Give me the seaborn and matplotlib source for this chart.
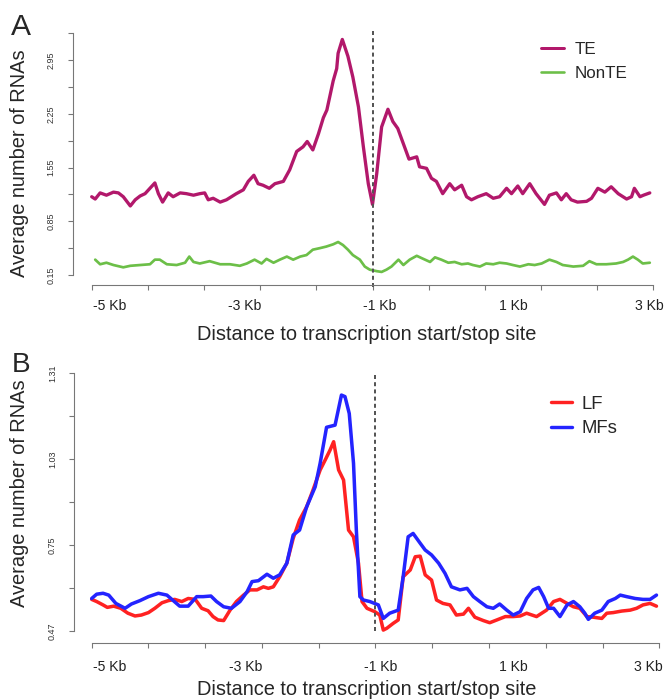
import numpy as np
import pandas as pd
import matplotlib
matplotlib.use("Agg")
import matplotlib.pyplot as plt
from matplotlib.lines import Line2D
import seaborn as sns

# ---------------- data ----------------
te_x = [-5.00, -4.95, -4.88, -4.79, -4.69, -4.62, -4.55, -4.45, -4.38, -4.31, -4.24, -4.17,
        -4.10, -4.05, -3.99, -3.91, -3.84, -3.74, -3.65, -3.55, -3.46, -3.39, -3.34, -3.27,
        -3.17, -3.08, -3.01, -2.94, -2.84, -2.77, -2.69, -2.63, -2.56, -2.47, -2.39, -2.27,
        -2.18, -2.08, -1.99, -1.93, -1.85, -1.77, -1.70, -1.65, -1.56, -1.51, -1.49, -1.43,
        -1.35, -1.28, -1.20, -1.13, -1.06, -1.00, -0.94, -0.87, -0.78, -0.71, -0.64, -0.56,
        -0.48, -0.37, -0.33, -0.23, -0.16, -0.09, 0.00, 0.10, 0.17, 0.27, 0.34, 0.41,
        0.50, 0.62, 0.72, 0.81, 0.91, 0.98, 1.07, 1.14, 1.24, 1.33, 1.45, 1.52,
        1.62, 1.69, 1.76, 1.83, 1.92, 2.05, 2.12, 2.21, 2.31, 2.40, 2.50, 2.62,
        2.69, 2.73, 2.81, 2.86, 2.95]
te_y = [1.17, 1.14, 1.22, 1.19, 1.23, 1.22, 1.17, 1.05, 1.13, 1.18, 1.21, 1.28,
        1.35, 1.21, 1.10, 1.22, 1.17, 1.22, 1.21, 1.19, 1.21, 1.22, 1.13, 1.15,
        1.10, 1.13, 1.17, 1.21, 1.26, 1.37, 1.45, 1.34, 1.32, 1.28, 1.34, 1.37,
        1.52, 1.76, 1.82, 1.89, 1.78, 1.99, 2.20, 2.30, 2.68, 2.84, 3.04, 3.22,
        3.00, 2.73, 2.34, 1.82, 1.34, 1.07, 1.47, 2.08, 2.31, 2.15, 2.06, 1.86,
        1.66, 1.69, 1.56, 1.54, 1.41, 1.37, 1.21, 1.34, 1.26, 1.32, 1.17, 1.13,
        1.17, 1.21, 1.15, 1.17, 1.28, 1.21, 1.31, 1.21, 1.34, 1.21, 1.07, 1.19,
        1.22, 1.13, 1.21, 1.13, 1.10, 1.11, 1.15, 1.28, 1.23, 1.30, 1.21, 1.14,
        1.17, 1.28, 1.17, 1.19, 1.22]

nonte_x = [-4.95, -4.88, -4.79, -4.69, -4.55, -4.45, -4.31, -4.17, -4.10, -4.03, -3.93, -3.79,
           -3.67, -3.61, -3.55, -3.46, -3.32, -3.17, -3.03, -2.89, -2.79, -2.68, -2.58, -2.51,
           -2.41, -2.32, -2.22, -2.13, -2.03, -1.94, -1.85, -1.75, -1.66, -1.56, -1.49, -1.42,
           -1.35, -1.28, -1.18, -1.11, -1.04, -0.94, -0.87, -0.80, -0.73, -0.63, -0.56, -0.47,
           -0.37, -0.30, -0.18, -0.11, -0.02, 0.08, 0.17, 0.27, 0.36, 0.43, 0.53, 0.62,
           0.72, 0.81, 0.91, 1.00, 1.10, 1.22, 1.31, 1.41, 1.52, 1.62, 1.71, 1.86,
           2.00, 2.09, 2.19, 2.33, 2.47, 2.57, 2.64, 2.71, 2.78, 2.85, 2.95]
nonte_y = [0.35, 0.29, 0.31, 0.28, 0.25, 0.27, 0.28, 0.29, 0.35, 0.35, 0.29, 0.28,
           0.31, 0.39, 0.32, 0.30, 0.33, 0.29, 0.29, 0.27, 0.30, 0.35, 0.30, 0.36,
           0.31, 0.35, 0.39, 0.35, 0.39, 0.41, 0.48, 0.50, 0.52, 0.55, 0.58, 0.54,
           0.48, 0.41, 0.35, 0.26, 0.22, 0.20, 0.19, 0.22, 0.26, 0.35, 0.28, 0.35,
           0.40, 0.37, 0.32, 0.38, 0.35, 0.31, 0.32, 0.29, 0.30, 0.28, 0.26, 0.30,
           0.29, 0.31, 0.30, 0.28, 0.26, 0.29, 0.28, 0.30, 0.35, 0.32, 0.28, 0.26,
           0.27, 0.33, 0.29, 0.29, 0.30, 0.32, 0.35, 0.39, 0.35, 0.30, 0.31]

lf_x = [-5.00, -4.93, -4.84, -4.78, -4.69, -4.59, -4.49, -4.39, -4.30, -4.20, -4.11, -4.01,
        -3.92, -3.83, -3.73, -3.64, -3.54, -3.45, -3.36, -3.29, -3.22, -3.14, -3.05, -2.96,
        -2.86, -2.77, -2.67, -2.58, -2.51, -2.44, -2.35, -2.25, -2.16, -2.07, -1.97, -1.88,
        -1.78, -1.71, -1.64, -1.59, -1.52, -1.45, -1.38, -1.31, -1.24, -1.19, -1.12, -1.01,
        -0.94, -0.89, -0.84, -0.75, -0.68, -0.61, -0.51, -0.44, -0.37, -0.30, -0.21, -0.14,
        -0.05, 0.05, 0.14, 0.24, 0.31, 0.40, 0.52, 0.61, 0.71, 0.83, 0.94, 1.04,
        1.13, 1.27, 1.41, 1.51, 1.60, 1.70, 1.79, 1.88, 1.98, 2.07, 2.19, 2.26,
        2.35, 2.47, 2.59, 2.68, 2.77, 2.87, 2.96]
lf_y = [0.573, 0.566, 0.555, 0.547, 0.551, 0.544, 0.528, 0.519, 0.522, 0.530, 0.544, 0.562,
        0.569, 0.573, 0.566, 0.576, 0.573, 0.544, 0.536, 0.517, 0.506, 0.504, 0.538, 0.566,
        0.587, 0.604, 0.604, 0.614, 0.609, 0.614, 0.647, 0.691, 0.772, 0.832, 0.875, 0.930,
        0.995, 1.027, 1.060, 1.087, 0.995, 0.962, 0.799, 0.777, 0.691, 0.566, 0.544, 0.533,
        0.522, 0.473, 0.479, 0.495, 0.506, 0.647, 0.669, 0.712, 0.714, 0.653, 0.636, 0.571,
        0.560, 0.555, 0.522, 0.525, 0.544, 0.515, 0.504, 0.497, 0.506, 0.517, 0.517, 0.519,
        0.528, 0.517, 0.538, 0.566, 0.573, 0.560, 0.549, 0.544, 0.517, 0.515, 0.511, 0.528,
        0.530, 0.535, 0.538, 0.544, 0.555, 0.560, 0.551]

mf_x = [-5.00, -4.93, -4.84, -4.76, -4.66, -4.53, -4.44, -4.32, -4.20, -4.06, -3.94, -3.85,
        -3.76, -3.64, -3.52, -3.43, -3.32, -3.24, -3.14, -3.03, -2.91, -2.81, -2.74, -2.65,
        -2.53, -2.44, -2.35, -2.25, -2.16, -2.07, -1.97, -1.85, -1.78, -1.69, -1.57, -1.48,
        -1.43, -1.37, -1.31, -1.27, -1.22, -1.17, -1.08, -0.96, -0.89, -0.80, -0.68, -0.61,
        -0.54, -0.47, -0.37, -0.30, -0.21, -0.11, -0.02, 0.07, 0.19, 0.29, 0.38, 0.47,
        0.57, 0.66, 0.75, 0.85, 0.94, 1.04, 1.13, 1.22, 1.30, 1.37, 1.44, 1.51,
        1.60, 1.70, 1.79, 1.88, 1.95, 2.00, 2.09, 2.19, 2.28, 2.38, 2.45, 2.54,
        2.66, 2.77, 2.87, 2.96]
mf_y = [0.576, 0.590, 0.593, 0.587, 0.560, 0.544, 0.558, 0.569, 0.582, 0.593, 0.587, 0.569,
        0.551, 0.551, 0.582, 0.582, 0.584, 0.566, 0.549, 0.544, 0.566, 0.598, 0.631, 0.634,
        0.655, 0.642, 0.653, 0.691, 0.783, 0.799, 0.875, 0.940, 1.017, 1.134, 1.141, 1.239,
        1.234, 1.179, 1.017, 0.799, 0.582, 0.571, 0.566, 0.555, 0.511, 0.528, 0.538, 0.647,
        0.777, 0.788, 0.756, 0.734, 0.718, 0.691, 0.658, 0.614, 0.604, 0.609, 0.582, 0.566,
        0.549, 0.544, 0.558, 0.538, 0.522, 0.533, 0.576, 0.604, 0.612, 0.582, 0.544, 0.544,
        0.517, 0.555, 0.566, 0.549, 0.528, 0.508, 0.528, 0.538, 0.566, 0.576, 0.587, 0.582,
        0.576, 0.573, 0.573, 0.587]

xtick_pos = [-5.0, -4.2, -3.4, -2.6, -1.8, -1.0, -0.2, 0.6, 1.4, 2.2, 3.0]
xlabel_txt = ["-5 Kb", "-3 Kb", "-1 Kb", "1 Kb", "3 Kb"]
xlabel_pos_A = [-4.75, -2.82, -0.90, 1.01, 2.95]
xlabel_pos_B = [-4.75, -2.83, -0.93, 0.95, 2.85]

yticks_A = [0.15, 0.50, 0.85, 1.20, 1.55, 1.90, 2.25, 2.60, 2.95, 3.30]
ylabels_A = ["0.15", "", "0.85", "", "1.55", "", "2.25", "", "2.95", ""]
yticks_B = [0.47, 0.61, 0.75, 0.89, 1.03, 1.17, 1.31]
ylabels_B = ["0.47", "", "0.75", "", "1.03", "", "1.31"]

# ---------------- style ----------------
sns.set_style("white")
plt.rcParams["font.family"] = ["Liberation Sans", "DejaVu Sans"]

W, H = 665, 700
fig = plt.figure(figsize=(W / 72, H / 72), dpi=72)

axA = fig.add_axes([91.7 / W, (H - 275) / H, 561.6 / W, 241.7 / H])
axB = fig.add_axes([91.7 / W, (H - 631) / H, 567.6 / W, 257.7 / H])

cols_A = {"TE": "#B2186B", "NonTE": "#6CBF48"}
cols_B = {"LF": "#FF2222", "MFs": "#2424FF"}

dfA = pd.concat([
    pd.DataFrame({"dist": te_x, "rna": te_y, "group": "TE"}),
    pd.DataFrame({"dist": nonte_x, "rna": nonte_y, "group": "NonTE"}),
])
dfB = pd.concat([
    pd.DataFrame({"dist": lf_x, "rna": lf_y, "group": "LF"}),
    pd.DataFrame({"dist": mf_x, "rna": mf_y, "group": "MFs"}),
])

sns.lineplot(data=dfA, x="dist", y="rna", hue="group", palette=cols_A,
             estimator=None, ax=axA, legend=False, linewidth=3.3)
sns.lineplot(data=dfB, x="dist", y="rna", hue="group", palette=cols_B,
             estimator=None, ax=axB, legend=False, linewidth=3.5)
for ln in axA.lines:
    ln.set_clip_on(False)
    ln.set_solid_joinstyle("round")
axA.lines[1].set_linewidth(2.7)
for ln in axB.lines:
    ln.set_clip_on(False)
    ln.set_solid_joinstyle("round")

axA.set_xlim(-5, 3)
axA.set_ylim(0.15, 3.30)
axB.set_xlim(-5, 3)
axB.set_ylim(0.47, 1.31)

axA.axvline(-1.0, ymin=-0.05, ymax=1.02, color="#555555", lw=2,
            linestyle=(0, (2, 1.6)), clip_on=False)
axB.axvline(-1.0, ymin=0.0, ymax=1.0, color="#555555", lw=2,
            linestyle=(0, (2, 1.6)), clip_on=False)

spine_col = "#777777"
for ax, yt, yl, xlp, offl, offb, xpad in [
        (axA, yticks_A, ylabels_A, xlabel_pos_A, 19, 10, 14),
        (axB, yticks_B, ylabels_B, xlabel_pos_B, 17.7, 11.7, 17)]:
    sns.despine(ax=ax, offset={"left": offl, "bottom": offb})
    ax.spines["left"].set_bounds(yt[0], yt[-1])
    ax.spines["bottom"].set_bounds(xtick_pos[0], xtick_pos[-1])
    for s in ("left", "bottom"):
        ax.spines[s].set_color(spine_col)
        ax.spines[s].set_linewidth(1.1)
    ax.set_yticks(yt)
    ax.set_yticklabels(yl, rotation=90, va="center", fontsize=9, color="#333333")
    ax.set_xticks(xtick_pos)
    ax.set_xticklabels([""] * len(xtick_pos))
    ax.set_xticks(xlp, minor=True)
    ax.set_xticklabels(xlabel_txt, minor=True, fontsize=14, color="#222222")
    ax.tick_params(axis="x", which="major", length=5, width=1.1, color=spine_col,
                   direction="out", bottom=True)
    ax.tick_params(axis="x", which="minor", length=0, pad=xpad, bottom=True)
    ax.tick_params(axis="y", which="major", length=5, width=1.1, color=spine_col,
                   direction="out", left=True, pad=12)
    ax.set_xlabel("")
    ax.set_ylabel("")
    ax.grid(False)

# legends
hA = [Line2D([], [], color=cols_A["TE"], lw=3), Line2D([], [], color=cols_A["NonTE"], lw=2.6)]
axA.legend(hA, ["TE", "NonTE"], loc="upper left", bbox_to_anchor=(541 / W, 1 - 42 / H),
           bbox_transform=fig.transFigure, frameon=False, fontsize=17,
           handlelength=1.35, handletextpad=0.6, borderpad=0, borderaxespad=0,
           labelspacing=0.53)
hB = [Line2D([], [], color=cols_B["LF"], lw=3.4), Line2D([], [], color=cols_B["MFs"], lw=3.4)]
axB.legend(hB, ["LF", "MFs"], loc="upper left", bbox_to_anchor=(551 / W, 1 - 395.7 / H),
           bbox_transform=fig.transFigure, frameon=False, fontsize=18.5,
           handlelength=1.15, handletextpad=0.5, borderpad=0, borderaxespad=0,
           labelspacing=0.42)

# panel letters and axis titles
fig.text(11 / W, 1 - 35 / H, "A", fontsize=30, va="baseline", ha="left")
fig.text(12 / W, 1 - 371.7 / H, "B", fontsize=28, va="baseline", ha="left")
ylab = "Average number of RNAs"
xlab = "Distance to transcription start/stop site"
fig.text(20 / W, 1 - 163 / H, ylab, rotation=90, fontsize=20, ha="center", va="center")
fig.text(20 / W, 1 - 493 / H, ylab, rotation=90, fontsize=20, ha="center", va="center")
fig.text(367 / W, 1 - 340 / H, xlab, fontsize=20, ha="center", va="baseline")
fig.text(367 / W, 1 - 695 / H, xlab, fontsize=20, ha="center", va="baseline")

fig.savefig("out.png", dpi=72)
